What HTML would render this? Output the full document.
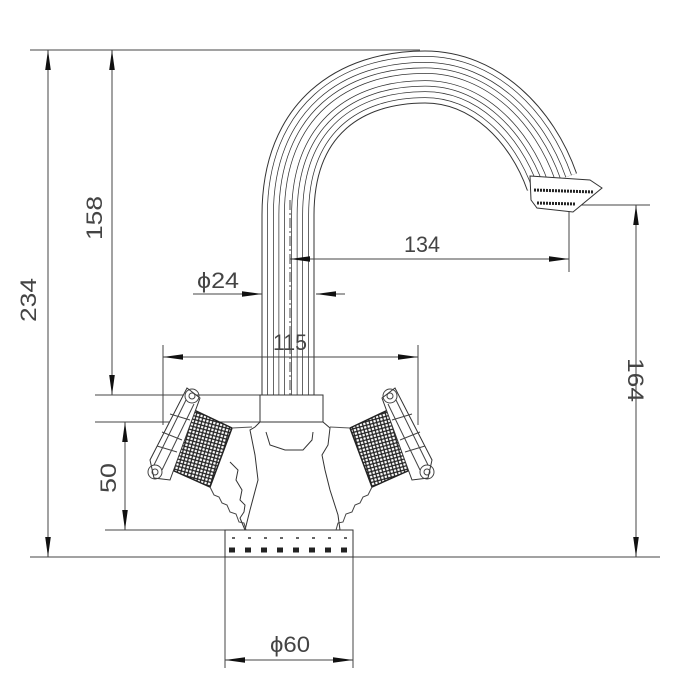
<!DOCTYPE html>
<html><head><meta charset="utf-8"><style>
html,body{margin:0;padding:0;background:#fff;}
svg{display:block;}
text{font-family:"Liberation Sans",sans-serif;fill:#444;}
</style></head><body>
<svg width="700" height="700" viewBox="0 0 700 700" xmlns="http://www.w3.org/2000/svg">
<defs>
<pattern id="kn" width="5" height="5" patternUnits="userSpaceOnUse" patternTransform="rotate(30)">
<rect width="5" height="5" fill="#fff"/>
<path d="M0 0L5 5M5 0L0 5" stroke="#222" stroke-width="1.3"/>
</pattern>
<marker id="a" viewBox="0 0 10 4" refX="10" refY="2" markerWidth="27" markerHeight="8" markerUnits="userSpaceOnUse" orient="auto-start-reverse"><path d="M0 0.6L10 2L0 3.4Z" fill="#111"/></marker>
<g id="hd">
<polygon points="350,428 388,410 410,470 372,487" fill="url(#kn)" stroke="#222" stroke-width="1.5"/>
<polygon points="382,398 395,388 432,460 428,478 412,480" fill="#fff" stroke="#333" stroke-width="1"/>
<path d="M388,404 L420,470 M396,400 L428,465 M392,420 L412,414 M400,440 L420,432 M405,452 L425,446" stroke="#444" stroke-width="1" fill="none"/>
<circle cx="390" cy="396" r="7" fill="none" stroke="#444" stroke-width="1"/>
<circle cx="390" cy="396" r="3" fill="none" stroke="#444" stroke-width="1"/>
<circle cx="427" cy="472" r="7" fill="none" stroke="#444" stroke-width="1"/>
<circle cx="427" cy="472" r="3" fill="none" stroke="#444" stroke-width="1"/>
<path d="M372,487 L368,495 L363,497 L360,503 L355,505 L352,512 L346,514 L343,522 L338,523 L336,530" fill="none" stroke="#444" stroke-width="1"/>
<path d="M350,428 L330,427" stroke="#555" stroke-width="1"/>
</g>
<path id="sp" d="M288,400 L288,215 C288,118 350,77 425,77 C485,77 532,125 552,182" fill="none"/>
</defs>
<!-- spout tubes -->
<g stroke-linecap="butt">
<use href="#sp" stroke="#333" stroke-width="53"/>
<use href="#sp" stroke="#fff" stroke-width="51"/>
<use href="#sp" stroke="#333" stroke-width="42"/>
<use href="#sp" stroke="#fff" stroke-width="40.5"/>
<use href="#sp" stroke="#333" stroke-width="30"/>
<use href="#sp" stroke="#fff" stroke-width="28.5"/>
<use href="#sp" stroke="#333" stroke-width="19"/>
<use href="#sp" stroke="#fff" stroke-width="17.5"/>
<use href="#sp" stroke="#333" stroke-width="8"/>
<use href="#sp" stroke="#fff" stroke-width="6.5"/>
</g>
<g stroke="#444" stroke-width="1" fill="none">
<line x1="30" y1="50" x2="420" y2="50"/>
<line x1="30" y1="557" x2="660" y2="557"/>
<line x1="95" y1="395" x2="260" y2="395"/>
<line x1="95" y1="422" x2="260" y2="422"/>
<line x1="105" y1="530" x2="240" y2="530"/>
<line x1="570" y1="205" x2="650" y2="205"/>
<line x1="569" y1="205" x2="569" y2="272"/>
<line x1="163" y1="345" x2="163" y2="425"/>
<line x1="418" y1="345" x2="418" y2="425"/>
<line x1="225" y1="557" x2="225" y2="668"/>
<line x1="353" y1="557" x2="353" y2="668"/>
<line x1="48" y1="50" x2="48" y2="557" marker-start="url(#a)" marker-end="url(#a)"/>
<line x1="112" y1="50" x2="112" y2="395" marker-start="url(#a)" marker-end="url(#a)"/>
<line x1="125" y1="422" x2="125" y2="530" marker-start="url(#a)" marker-end="url(#a)"/>
<line x1="636" y1="205" x2="636" y2="557" marker-start="url(#a)" marker-end="url(#a)"/>
<line x1="290" y1="259" x2="569" y2="259" marker-start="url(#a)" marker-end="url(#a)"/>
<line x1="163" y1="357" x2="418" y2="357" marker-start="url(#a)" marker-end="url(#a)"/>
<line x1="225" y1="660" x2="353" y2="660" marker-start="url(#a)" marker-end="url(#a)"/>
<line x1="193" y1="294" x2="262" y2="294" marker-end="url(#a)"/>
<line x1="345" y1="294" x2="316" y2="294" marker-end="url(#a)"/>
<line x1="290" y1="200" x2="290" y2="400" stroke-dasharray="10,3,2,3"/>
<!-- nozzle -->
<polygon points="530,176 590,180 602,188 573,212 537,208 531,200" fill="#fff" stroke="#333"/>
<line x1="534" y1="190" x2="594" y2="192" stroke="#222" stroke-width="3" stroke-dasharray="2,1"/>
<line x1="537" y1="203" x2="575" y2="204" stroke="#222" stroke-width="3" stroke-dasharray="2,1"/>
<!-- body -->
<rect x="260" y="395" width="63" height="27" fill="#fff" stroke="#333"/>
<path d="M260,422 L255,427 L250,430 L255,455 L258,480 L250,510 L245,530" stroke="#333"/>
<path d="M323,422 L330,428 L328,445 L322,455 L325,470 L330,490 L338,515 L340,530" stroke="#333"/>
<path d="M266,432 L270,445 L285,450 L303,450 L312,440 L313,432" stroke="#333"/>
<path d="M230,462 L238,470 L236,480 L242,490 L240,500 L245,505 L244,512 L240,518 L245,530" stroke="#333"/>
<rect x="225" y="530" width="128" height="27" fill="#fff" stroke="#333"/>
<line x1="229" y1="550" x2="353" y2="550" stroke="#222" stroke-width="5" stroke-dasharray="6,10"/>
<line x1="232" y1="538" x2="353" y2="538" stroke="#333" stroke-width="1.5" stroke-dasharray="3,13"/>
</g>
<use href="#hd"/>
<use href="#hd" transform="translate(582,0) scale(-1,1)"/>
<g font-size="22">
<text x="36" y="300" transform="rotate(-90 36 300)" text-anchor="middle" textLength="44" lengthAdjust="spacingAndGlyphs">234</text>
<text x="102" y="218" transform="rotate(-90 102 218)" text-anchor="middle" textLength="44" lengthAdjust="spacingAndGlyphs">158</text>
<text x="116" y="478" transform="rotate(-90 116 478)" text-anchor="middle" textLength="30" lengthAdjust="spacingAndGlyphs">50</text>
<text x="628" y="380" transform="rotate(90 628 380)" text-anchor="middle" textLength="44" lengthAdjust="spacingAndGlyphs">164</text>
<text x="422" y="252" text-anchor="middle" textLength="36" lengthAdjust="spacingAndGlyphs">134</text>
<text x="218" y="288" text-anchor="middle" textLength="42" lengthAdjust="spacingAndGlyphs">ϕ24</text>
<text x="290" y="350" text-anchor="middle" textLength="34" lengthAdjust="spacingAndGlyphs">115</text>
<text x="290" y="652" text-anchor="middle" textLength="40" lengthAdjust="spacingAndGlyphs">ϕ60</text>
</g>
</svg>
</body></html>
